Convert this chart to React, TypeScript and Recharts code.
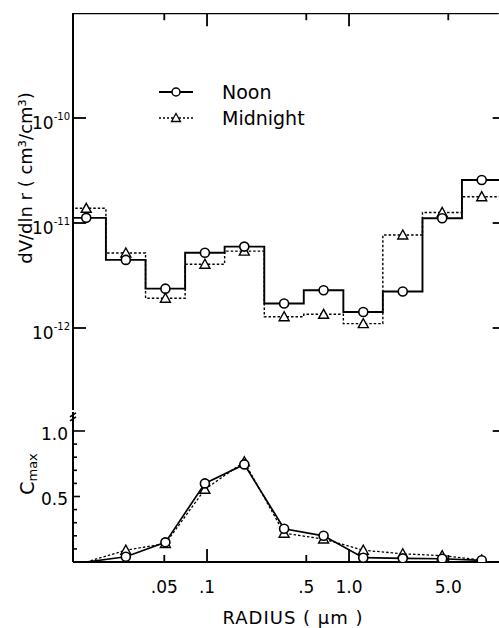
import React from "react";
import { ComposedChart, LineChart, Line, XAxis, YAxis, Legend } from "recharts";

const FONT = "'DejaVu Sans', sans-serif";

// bin edges and centres (radius, µm)
const binEdges = [0.0102, 0.0194, 0.0369, 0.0701, 0.133, 0.253, 0.48, 0.912, 1.73, 3.29, 6.24, 11.9];
const binCenters = [0.0141, 0.0268, 0.0509, 0.0966, 0.183, 0.349, 0.662, 1.26, 2.39, 4.53, 8.6];

// dV/dln r (cm3/cm3)
const noonDV = [1.12e-11, 4.45e-12, 2.37e-12, 5.2e-12, 5.96e-12, 1.71e-12, 2.29e-12, 1.42e-12, 2.23e-12, 1.11e-11, 2.57e-11];
const midnightDV = [1.38e-11, 5.18e-12, 1.92e-12, 4.05e-12, 5.4e-12, 1.28e-12, 1.35e-12, 1.1e-12, 7.69e-12, 1.26e-11, 1.78e-11];

// Cmax
const noonCmax = [0.0, 0.04, 0.15, 0.6, 0.745, 0.254, 0.2, 0.033, 0.028, 0.025, 0.013];
const midnightCmax = [0.0, 0.09, 0.14, 0.555, 0.765, 0.22, 0.175, 0.09, 0.063, 0.048, 0.015];

const radiusTicks = [0.05, 0.1, 0.5, 1, 5];
const radiusTickLabels = [".05", ".1", ".5", "1.0", "5.0"];
const dvTicks = [1e-12, 1e-11, 1e-10];
const dvTickExponents = ["-12", "-11", "-10"];
const cmaxTicks = [0.1, 0.2, 0.3, 0.4, 0.5, 0.6, 0.7, 0.8, 0.9, 1.0, 1.13];
const cmaxLabels: Record<string, string> = { "0.5": "0.5", "1": "1.0" };
const cmaxRightTicks = [1.0];
const seriesNames = ["Noon", "Midnight"];
const xAxisLabel = "RADIUS ( μm )";
const yTopLabel = "dV/dln r ( cm³/cm³)";

const X_DOMAIN: [number, number] = [0.011378, 11.38];
const DV_DOMAIN: [number, number] = [1.656e-13, 1e-9];
const CMAX_DOMAIN: [number, number] = [0, 1.145];

// frame positions just inside the plotted domain
const FRAME_TOP = 0.995e-9;
const FRAME_LEFT = 0.01144;
const FRAME_RIGHT = 11.32;

const stepData = (vals: number[]) =>
  binEdges.map((e, i) => ({ r: e, v: vals[Math.min(i, vals.length - 1)] }));
const pointData = (vals: number[]) => binCenters.map((c, i) => ({ r: c, v: vals[i] }));
const hLineData = (xs: number[], v: number) => xs.map((r) => ({ r, v }));
const vPointData = (r: number, vs: number[]) => vs.map((v) => ({ r, v }));

const CircleDot = (props: any) => {
  const { cx, cy, index } = props;
  if (cx == null || cy == null) return <g key={`c${index}`} />;
  return <circle key={`c${index}`} cx={cx} cy={cy} r={4.5} fill="#fff" stroke="#000" strokeWidth={1.6} />;
};
const TriDot = (props: any) => {
  const { cx, cy, index } = props;
  if (cx == null || cy == null) return <g key={`t${index}`} />;
  return (
    <polygon
      key={`t${index}`}
      points={`${cx},${cy - 5} ${cx - 5},${cy + 4} ${cx + 5},${cy + 4}`}
      fill="#fff"
      stroke="#000"
      strokeWidth={1.4}
    />
  );
};
const CircleDotSkipFirst = (props: any) =>
  props.index === 0 ? <g key="cs0" /> : CircleDot(props);
const TriDotSkipFirst = (props: any) =>
  props.index === 0 ? <g key="ts0" /> : TriDot(props);

const majorLen = (v: number) => (v === 0.1 || v === 1 ? 13 : 7);

const TopTickDot = (props: any) => {
  const { cx, cy, index } = props;
  if (cx == null || cy == null) return <g key={`tt${index}`} />;
  const len = majorLen(radiusTicks[index]);
  return <line key={`tt${index}`} x1={cx} x2={cx} y1={cy} y2={cy + len} stroke="#000" strokeWidth={1.8} />;
};
const RightTickDot = (props: any) => {
  const { cx, cy, index } = props;
  if (cx == null || cy == null) return <g key={`rt${index}`} />;
  return <line key={`rt${index}`} x1={cx + 1} x2={cx - 6} y1={cy} y2={cy} stroke="#000" strokeWidth={1.8} />;
};

const BottomXTick = (props: any) => {
  const { x, y, payload, index } = props;
  const len = payload.value === 0.1 || payload.value === 1 ? 13 : 7;
  return (
    <g>
      <line x1={x} x2={x} y1={y} y2={y - len} stroke="#000" strokeWidth={1.8} />
      <text x={x} y={y + 31} textAnchor="middle" fontSize={17} fontFamily={FONT} fill="#000">
        {radiusTickLabels[index]}
      </text>
    </g>
  );
};

const DvLeftTick = (props: any) => {
  const { x, y, index } = props;
  return (
    <g>
      <line x1={x} x2={x + 13} y1={y} y2={y} stroke="#000" strokeWidth={1.8} />
      <text x={x - 3} y={y + 11} textAnchor="end" fontSize={17} fontFamily={FONT} fill="#000">
        <tspan>10</tspan>
        <tspan dy={-9} fontSize={10}>{dvTickExponents[index]}</tspan>
      </text>
    </g>
  );
};

const CmaxLeftTick = (props: any) => {
  const { x, y, payload } = props;
  const v = Math.round(payload.value * 100) / 100;
  if (v > 1.05) {
    return (
      <g>
        <line x1={x - 3} x2={x + 3} y1={y + 3} y2={y - 1} stroke="#000" strokeWidth={1.5} />
        <line x1={x - 3} x2={x + 3} y1={y + 7} y2={y + 3} stroke="#000" strokeWidth={1.5} />
      </g>
    );
  }
  const key = String(v);
  const len = v === 1 ? 12 : v === 0.5 ? 7 : 4;
  return (
    <g>
      <line x1={x} x2={x + len} y1={y} y2={y} stroke="#000" strokeWidth={1.6} />
      {cmaxLabels[key] ? (
        <text x={x - 5} y={y + 9} textAnchor="end" fontSize={17} fontFamily={FONT} fill="#000">
          {cmaxLabels[key]}
        </text>
      ) : null}
    </g>
  );
};

const LegendContent = () => (
  <div style={{ fontFamily: FONT, fontSize: 19, color: "#000" }}>
    {seriesNames.map((n, i) => (
      <div key={n} style={{ display: "flex", alignItems: "center", height: 26 }}>
        <svg width={36} height={20} style={{ display: "block" }}>
          <line
            x1={1}
            x2={35}
            y1={10}
            y2={10}
            stroke="#000"
            strokeWidth={i === 0 ? 1.8 : 1.4}
            strokeDasharray={i === 0 ? undefined : "2 2"}
          />
          {i === 0 ? (
            <circle cx={18} cy={10} r={4} fill="#fff" stroke="#000" strokeWidth={1.5} />
          ) : (
            <polygon points="18,5.5 13.5,13.5 22.5,13.5" fill="#fff" stroke="#000" strokeWidth={1.3} />
          )}
        </svg>
        <span style={{ marginLeft: 28, lineHeight: "20px" }}>{n}</span>
      </div>
    ))}
  </div>
);

const TopYLabel = (props: any) => {
  const vb = props.viewBox || { x: 0, y: 13 };
  const cx = vb.x + 25;
  const cy = 178;
  return (
    <text
      transform={`translate(${cx},${cy}) rotate(-90)`}
      textAnchor="middle"
      dominantBaseline="central"
      fontSize={18}
      fontFamily={FONT}
      fill="#000"
    >
      {yTopLabel}
    </text>
  );
};

const CmaxLabel = (props: any) => {
  const vb = props.viewBox || { x: 0 };
  const cx = vb.x + 27;
  const cy = 74;
  return (
    <text
      transform={`translate(${cx},${cy}) rotate(-90)`}
      textAnchor="middle"
      dominantBaseline="central"
      fontSize={19}
      fontFamily={FONT}
      fill="#000"
    >
      <tspan>C</tspan>
      <tspan fontSize={13} dy={5}>max</tspan>
    </text>
  );
};

const XLabel = () => (
  <text x={293} y={224} textAnchor="middle" fontSize={18} letterSpacing={1} fontFamily={FONT} fill="#000">
    {xAxisLabel}
  </text>
);

export default function App() {
  return (
    <div
      style={{
        position: "absolute",
        left: 0,
        top: 0,
        width: 499,
        height: 628,
        background: "#fff",
        overflow: "hidden",
      }}
    >
      <div style={{ position: "absolute", left: 0, top: 0 }}>
        <ComposedChart width={499} height={411} margin={{ top: 13, right: 0, bottom: 1, left: 0 }}>
          <XAxis dataKey="r" type="number" scale="log" domain={X_DOMAIN} allowDataOverflow hide />
          <YAxis
            yAxisId="left"
            type="number"
            scale="log"
            domain={DV_DOMAIN}
            allowDataOverflow
            width={73}
            ticks={dvTicks}
            tick={<DvLeftTick />}
            tickLine={false}
            tickSize={0}
            tickMargin={0}
            axisLine={{ stroke: "#000", strokeWidth: 2 }}
            interval={0}
            label={{ content: <TopYLabel /> }}
          />
          <Legend
            layout="vertical"
            align="center"
            verticalAlign="middle"
            content={<LegendContent />}
            wrapperStyle={{ left: 158, top: 79, width: 200, height: 52 }}
          />
          <Line
            yAxisId="left"
            data={stepData(midnightDV)}
            dataKey="v"
            type="stepAfter"
            stroke="#000"
            strokeWidth={1.4}
            strokeDasharray="2.5 2"
            dot={false}
            activeDot={false}
            isAnimationActive={false}
            name="Midnight step"
          />
          <Line
            yAxisId="left"
            data={stepData(noonDV)}
            dataKey="v"
            type="stepAfter"
            stroke="#000"
            strokeWidth={1.9}
            dot={false}
            activeDot={false}
            isAnimationActive={false}
            name="Noon step"
          />
          <Line
            yAxisId="left"
            data={pointData(midnightDV)}
            dataKey="v"
            stroke="none"
            strokeWidth={0}
            dot={<TriDot />}
            activeDot={false}
            isAnimationActive={false}
            name="Midnight"
          />
          <Line
            yAxisId="left"
            data={pointData(noonDV)}
            dataKey="v"
            stroke="none"
            strokeWidth={0}
            dot={<CircleDot />}
            activeDot={false}
            isAnimationActive={false}
            name="Noon"
          />
          <Line
            yAxisId="left"
            data={hLineData([FRAME_LEFT, FRAME_RIGHT], FRAME_TOP)}
            dataKey="v"
            type="linear"
            stroke="#000"
            strokeWidth={2.2}
            dot={false}
            activeDot={false}
            isAnimationActive={false}
            name="Frame"
          />
          <Line
            yAxisId="left"
            data={hLineData(radiusTicks, FRAME_TOP)}
            dataKey="v"
            stroke="none"
            strokeWidth={0}
            dot={<TopTickDot />}
            activeDot={false}
            isAnimationActive={false}
            name="Top ticks"
          />
          <Line
            yAxisId="left"
            data={vPointData(FRAME_RIGHT, dvTicks)}
            dataKey="v"
            stroke="none"
            strokeWidth={0}
            dot={<RightTickDot />}
            activeDot={false}
            isAnimationActive={false}
            name="Right ticks"
          />
        </ComposedChart>
      </div>
      <div style={{ position: "absolute", left: 0, top: 400 }}>
        <LineChart width={499} height={228} margin={{ top: 12, right: 0, bottom: 0, left: 0 }}>
          <XAxis
            dataKey="r"
            type="number"
            scale="log"
            domain={X_DOMAIN}
            allowDataOverflow
            orientation="bottom"
            height={66}
            ticks={radiusTicks}
            tick={<BottomXTick />}
            tickLine={false}
            tickSize={0}
            tickMargin={0}
            axisLine={{ stroke: "#000", strokeWidth: 2 }}
            interval={0}
            label={{ content: <XLabel /> }}
          />
          <YAxis
            yAxisId="left"
            type="number"
            domain={CMAX_DOMAIN}
            allowDataOverflow
            width={73}
            ticks={cmaxTicks}
            tick={<CmaxLeftTick />}
            tickLine={false}
            tickSize={0}
            tickMargin={0}
            axisLine={{ stroke: "#000", strokeWidth: 2 }}
            interval={0}
            label={{ content: <CmaxLabel /> }}
          />
          <Line
            yAxisId="left"
            data={pointData(midnightCmax)}
            dataKey="v"
            type="linear"
            stroke="#000"
            strokeWidth={1.3}
            strokeDasharray="2.5 2"
            dot={<TriDotSkipFirst />}
            activeDot={false}
            isAnimationActive={false}
            name="Midnight"
          />
          <Line
            yAxisId="left"
            data={pointData(noonCmax)}
            dataKey="v"
            type="linear"
            stroke="#000"
            strokeWidth={1.7}
            dot={<CircleDotSkipFirst />}
            activeDot={false}
            isAnimationActive={false}
            name="Noon"
          />
          <Line
            yAxisId="left"
            data={vPointData(FRAME_RIGHT, cmaxRightTicks)}
            dataKey="v"
            stroke="none"
            strokeWidth={0}
            dot={<RightTickDot />}
            activeDot={false}
            isAnimationActive={false}
            name="Right ticks"
          />
        </LineChart>
      </div>
    </div>
  );
}
